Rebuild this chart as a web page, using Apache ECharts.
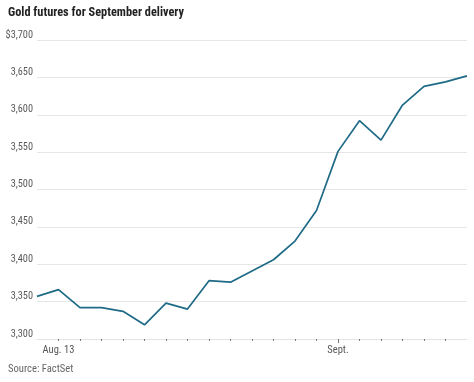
<!DOCTYPE html>
<html>
<head>
<meta charset="utf-8">
<script src="https://cdn.jsdelivr.net/npm/echarts@6/dist/echarts.min.js"></script>
<style>
  html, body { margin: 0; padding: 0; background: #fff; }
  #chart { width: 474px; height: 382px; }
</style>
</head>
<body>
<div id="chart"></div>
<script>
// Trading days, Aug. 12 – Sept. 10
const dates = ['Aug 12','Aug 13','Aug 14','Aug 15','Aug 18','Aug 19','Aug 20','Aug 21','Aug 22',
  'Aug 25','Aug 26','Aug 27','Aug 28','Aug 29','Sep 2','Sep 3','Sep 4','Sep 5','Sep 8','Sep 9','Sep 10'];
const prices = [3357, 3366, 3342, 3342, 3337, 3319, 3348, 3340, 3378, 3376, 3391, 3406, 3431,
  3472, 3551, 3592, 3566, 3613, 3638, 3644, 3652];
const xLabels = { 'Aug 13': 'Aug. 13', 'Sep 2': 'Sept.' };
const yMin = 3300, yMax = 3700, yStep = 50;
const titleText = 'Gold futures for September delivery';
const sourceText = 'Source: FactSet';

const cond = '"Roboto Condensed", "Liberation Sans", Arial, sans-serif';

const chart = echarts.init(document.getElementById('chart'), null, { renderer: 'canvas' });
chart.setOption({
  animation: false,
  backgroundColor: '#ffffff',
  title: {
    text: titleText,
    left: 3, top: 2,
    textStyle: { fontFamily: cond, fontWeight: 'bold', fontSize: 12.3, color: '#222' }
  },
  graphic: [{
    type: 'text', left: 8, top: 364,
    style: { text: sourceText, fontFamily: cond, fontSize: 10.6, fill: '#666' }
  }],
  grid: { left: 37, right: 7, top: 40, bottom: 43, containLabel: false },
  xAxis: [{
    type: 'category',
    data: dates,
    boundaryGap: false,
    axisLine: { show: true, lineStyle: { color: '#e3e3e3', width: 1 } },
    axisTick: {
      show: true, length: 2, lineStyle: { color: '#777' },
      interval: (i) => i >= 1 && i <= 19
    },
    axisLabel: {
      interval: (i, v) => xLabels[v] !== undefined,
      formatter: (v) => xLabels[v] || '',
      fontFamily: cond, fontSize: 10.5, color: '#555', margin: 6
    },
    splitLine: { show: false }
  }, {
    type: 'category',
    data: dates,
    boundaryGap: false,
    position: 'bottom',
    axisLine: { show: false },
    axisTick: { show: true, length: 4, lineStyle: { color: '#777' },
      interval: (i, v) => v === 'Sep 2' },
    axisLabel: { show: false },
    splitLine: { show: false }
  }],
  yAxis: {
    type: 'value',
    min: yMin, max: yMax, interval: yStep,
    axisLine: { show: false },
    axisTick: { show: false },
    axisLabel: {
      formatter: (v) => (v === yMax ? '$' : '') + v.toLocaleString('en-US'),
      fontFamily: cond, fontSize: 10.3, color: '#5a5a5a', margin: 4,
      verticalAlign: 'bottom'
    },
    splitLine: { lineStyle: { color: '#e6e6e6', width: 1 } }
  },
  series: [{
    type: 'line',
    data: prices,
    symbol: 'none',
    lineStyle: { color: '#1f6b87', width: 1.7 }
  }]
});
</script>
</body>
</html>
